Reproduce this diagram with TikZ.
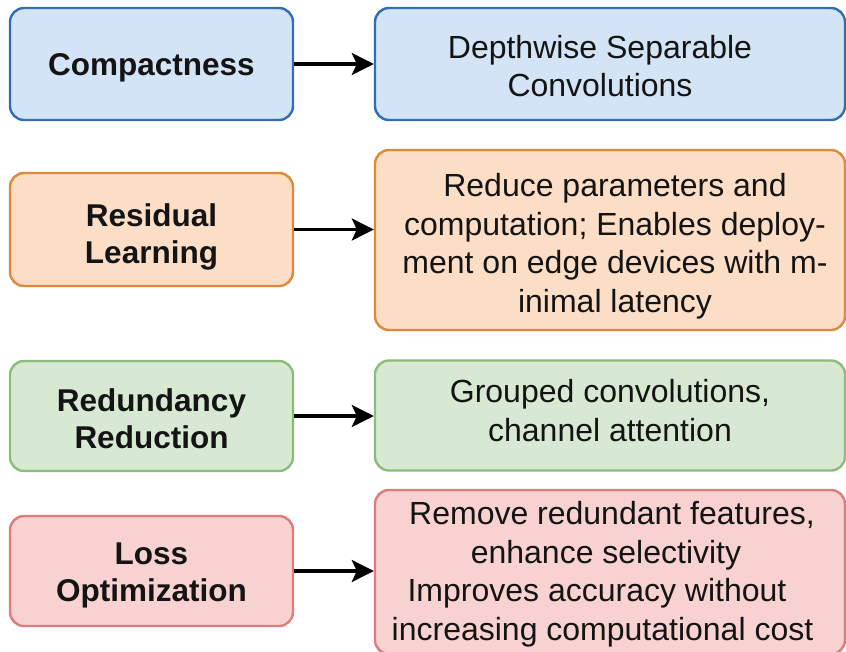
\documentclass[tikz,border=0pt]{standalone}
\usepackage{fontspec}
\setmainfont{Liberation Sans}
\usetikzlibrary{arrows.meta}
\definecolor{bfill}{HTML}{D2E4F5}
\definecolor{bdraw}{HTML}{2F6EB2}
\definecolor{ofill}{HTML}{FCDDC6}
\definecolor{odraw}{HTML}{DE8838}
\definecolor{gfill}{HTML}{D7E9D3}
\definecolor{gdraw}{HTML}{8DBB79}
\definecolor{rfill}{HTML}{F8D2D1}
\definecolor{rdraw}{HTML}{DC7D7B}
\tikzset{
  box/.style={rounded corners=14pt, line width=2.4pt, inner sep=0pt},
  leftbox/.style={box, minimum width=283pt},
  rightbox/.style={box, minimum width=470pt},
  ltext/.style={inner sep=0pt, align=center, text=black!92, font=\fontsize{31.5}{37}\selectfont\bfseries},
  rtext/.style={inner sep=0pt, align=center, text=black!92, font=\fontsize{32}{38.5}\selectfont},
  conn/.style={line width=3.4pt, -{Stealth[length=22pt,width=22pt,inset=5pt]}}
}
\begin{document}
\begin{tikzpicture}[x=1pt,y=-1pt]
\useasboundingbox (0,0) rectangle (846,651);
% left boxes
\node[leftbox, fill=bfill, draw=bdraw, minimum height=112pt] (L1) at (151.5,64) {};
\node[leftbox, fill=ofill, draw=odraw, minimum height=113pt] (L2) at (151.5,229.5) {};
\node[leftbox, fill=gfill, draw=gdraw, minimum height=110pt] (L3) at (151.5,416) {};
\node[leftbox, fill=rfill, draw=rdraw, minimum height=110pt] (L4) at (151.5,571) {};
\node[ltext] (L1t) at ([yshift=-4pt]L1.center) {Compactness};
\node[ltext] (L2t) at ([yshift=-7pt]L2.center) {Residual\\Learning};
\node[ltext] (L3t) at ([yshift=-3pt]L3.center) {Redundancy\\Reduction};
\node[ltext] (L4t) at ([yshift=-4pt]L4.center) {Loss\\Optimization};
% right boxes
\node[rightbox, fill=bfill, draw=bdraw, minimum height=112pt] (R1) at (610,64) {};
\node[rightbox, fill=ofill, draw=odraw, minimum height=180pt] (R2) at (610,240) {};
\node[rightbox, fill=gfill, draw=gdraw, minimum height=110pt] (R3) at (610,415.5) {};
\node[rightbox, fill=rfill, draw=rdraw, minimum height=164pt] (R4) at (610,572) {};
\node[rtext] (R1t) at ([xshift=-10pt,yshift=-2pt]R1.center) {Depthwise Separable\\Convolutions};
\node[rtext] (R2t) at ([xshift=5pt,yshift=-6pt]R2.center) {Reduce parameters and\\computation; Enables deploy-\\ment on edge devices with m-\\inimal latency};
\node[rtext] (R3t) at ([yshift=5pt]R3.center) {Grouped convolutions,\\channel attention};
\node[rtext] (R4t) at ([xshift=2pt,yshift=-2pt]R4.center) {Remove redundant features,\\enhance selectivity\rule{12pt}{0pt}\\Improves accuracy without\rule{30pt}{0pt}\\increasing computational cost\rule{19pt}{0pt}};
% connectors
\draw[conn] (L1.east) -- (L1.east -| R1.west);
\draw[conn] (L2.east) -- (L2.east -| R2.west);
\draw[conn] (L3.east) -- (L3.east -| R3.west);
\draw[conn] (L4.east) -- (L4.east -| R4.west);
\end{tikzpicture}
\end{document}
